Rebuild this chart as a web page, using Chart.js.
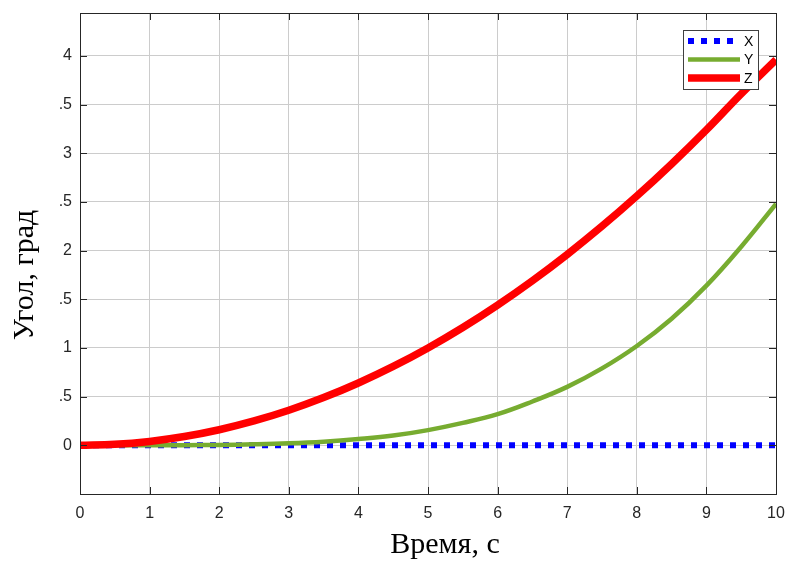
<!DOCTYPE html>
<html>
<head>
<meta charset="utf-8">
<script src="https://cdn.jsdelivr.net/npm/chart.js@4/dist/chart.umd.min.js"></script>
<style>
  html, body { margin: 0; padding: 0; background: #fff; }
  #wrap { width: 787px; height: 561px; }
</style>
</head>
<body>
<div id="wrap"><canvas id="c"></canvas></div>
<script>
// Time, s
var timeS = [0, 0.5, 1, 1.5, 2, 2.5, 3, 3.5, 4, 4.5, 5, 5.5, 6, 6.5, 7, 7.5, 8, 8.5, 9, 9.5, 10];
// Angles, deg
var angleX = [0, 0, 0, 0, 0, 0, 0, 0, 0, 0, 0, 0, 0, 0, 0, 0, 0, 0, 0, 0, 0];
var angleY = [0, 0, 0.0003, 0.0013, 0.004, 0.01, 0.02, 0.037, 0.064, 0.1, 0.156, 0.23, 0.32, 0.45, 0.6, 0.79, 1.02, 1.3, 1.64, 2.04, 2.48];
var angleZ = [0, 0.01, 0.04, 0.09, 0.16, 0.25, 0.36, 0.49, 0.64, 0.81, 1.0, 1.21, 1.44, 1.69, 1.96, 2.25, 2.56, 2.89, 3.24, 3.61, 3.96];

var yTickValues = [0, 0.5, 1, 1.5, 2, 2.5, 3, 3.5, 4];
var yTickLabels = ['0', '.5', '1', '.5', '2', '.5', '3', '.5', '4'];
var xTickValues = [0, 1, 2, 3, 4, 5, 6, 7, 8, 9, 10];

var xTitle = 'Время, с';
var yTitle = 'Угол, град';

function pts(vals) {
  return timeS.map(function (t, i) { return { x: t, y: vals[i] }; });
}

var axisColor = '#262626';
var gridColor = '#cccccc';

// MATLAB-like box, inward ticks, axis titles
var boxPlugin = {
  id: 'box',
  afterDatasetsDraw: function (chart) {
    var ctx = chart.ctx, a = chart.chartArea;
    var xs = chart.scales.x, ys = chart.scales.y;
    ctx.save();
    ctx.strokeStyle = axisColor;
    ctx.lineWidth = 1;
    ctx.beginPath();
    xTickValues.forEach(function (v) {
      var px = Math.round(xs.getPixelForValue(v)) + 0.5;
      ctx.moveTo(px, a.bottom); ctx.lineTo(px, a.bottom - 7);
      ctx.moveTo(px, a.top); ctx.lineTo(px, a.top + 7);
    });
    yTickValues.forEach(function (v) {
      var py = Math.round(ys.getPixelForValue(v)) + 0.5;
      ctx.moveTo(a.left, py); ctx.lineTo(a.left + 7, py);
      ctx.moveTo(a.right, py); ctx.lineTo(a.right - 7, py);
    });
    ctx.stroke();
    ctx.strokeRect(Math.round(a.left) + 0.5, Math.round(a.top) + 0.5,
      Math.round(a.right - a.left), Math.round(a.bottom - a.top));
    ctx.restore();
  },
  afterDraw: function (chart) {
    var ctx = chart.ctx;
    ctx.save();
    ctx.fillStyle = '#000';
    ctx.font = '30px "Liberation Serif", "Times New Roman", serif';
    ctx.textAlign = 'center';
    ctx.textBaseline = 'alphabetic';
    ctx.fillText(xTitle, 445, 553);
    ctx.translate(33, 275);
    ctx.rotate(-Math.PI / 2);
    ctx.fillText(yTitle, 0, 0);
    ctx.restore();
  }
};

// legend box inside the axes
var legendPlugin = {
  id: 'boxLegend',
  afterDatasetsDraw: function (chart) {
    var ctx = chart.ctx;
    var x0 = 683, y0 = 30, w = 75, h = 59;
    ctx.save();
    ctx.fillStyle = '#fff';
    ctx.fillRect(x0, y0, w, h);
    ctx.strokeStyle = '#404040';
    ctx.lineWidth = 1;
    ctx.strokeRect(x0 + 0.5, y0 + 0.5, w, h);
    chart.data.datasets.forEach(function (ds, i) {
      var cy = y0 + 11 + i * 18.5;
      ctx.beginPath();
      ctx.strokeStyle = ds.borderColor;
      ctx.lineWidth = ds.borderWidth;
      ctx.setLineDash(ds.borderDash || []);
      ctx.moveTo(x0 + 5, cy);
      ctx.lineTo(x0 + 57, cy);
      ctx.stroke();
      ctx.setLineDash([]);
      ctx.fillStyle = '#000';
      ctx.font = '14px "Liberation Sans", Arial, sans-serif';
      ctx.textBaseline = 'middle';
      ctx.textAlign = 'left';
      ctx.fillText(ds.label, x0 + 61, cy + 1);
    });
    ctx.restore();
  }
};

new Chart(document.getElementById('c').getContext('2d'), {
  type: 'line',
  data: {
    datasets: [
      { label: 'X', data: pts(angleX), borderColor: '#0000ff', borderWidth: 6, borderDash: [6, 7],
        pointRadius: 0, fill: false, order: 3 },
      { label: 'Y', data: pts(angleY), borderColor: '#77ac30', borderWidth: 4.5,
        pointRadius: 0, fill: false, tension: 0.4, order: 2 },
      { label: 'Z', data: pts(angleZ), borderColor: '#ff0000', borderWidth: 7.5,
        pointRadius: 0, fill: false, tension: 0.4, order: 1 }
    ]
  },
  options: {
    responsive: true, maintainAspectRatio: false, animation: false,
    layout: { padding: { left: 0, right: 11, top: 13, bottom: 0 } },
    plugins: { legend: { display: false }, tooltip: { enabled: false } },
    scales: {
      x: {
        type: 'linear', min: 0, max: 10,
        afterBuildTicks: function (s) { s.ticks = xTickValues.map(function (v) { return { value: v }; }); },
        afterFit: function (s) { s.height = 67; s.paddingLeft = 0; s.paddingRight = 0; },
        grid: { color: gridColor, drawTicks: false },
        border: { display: false },
        ticks: { color: axisColor, padding: 10, maxRotation: 0, autoSkip: false,
          font: { family: '"Liberation Sans", Arial, sans-serif', size: 16 } }
      },
      y: {
        type: 'linear', min: -0.5, max: 4.44,
        afterBuildTicks: function (s) { s.ticks = yTickValues.map(function (v) { return { value: v }; }); },
        afterFit: function (s) { s.width = 80; s.paddingTop = 0; s.paddingBottom = 0; },
        grid: { color: gridColor, drawTicks: false },
        border: { display: false },
        ticks: { color: axisColor, padding: 8, autoSkip: false,
          font: { family: '"Liberation Sans", Arial, sans-serif', size: 16 },
          callback: function (v) {
            var i = yTickValues.indexOf(v);
            return i >= 0 ? yTickLabels[i] : '';
          } }
      }
    }
  },
  plugins: [boxPlugin, legendPlugin]
});
</script>
</body>
</html>
